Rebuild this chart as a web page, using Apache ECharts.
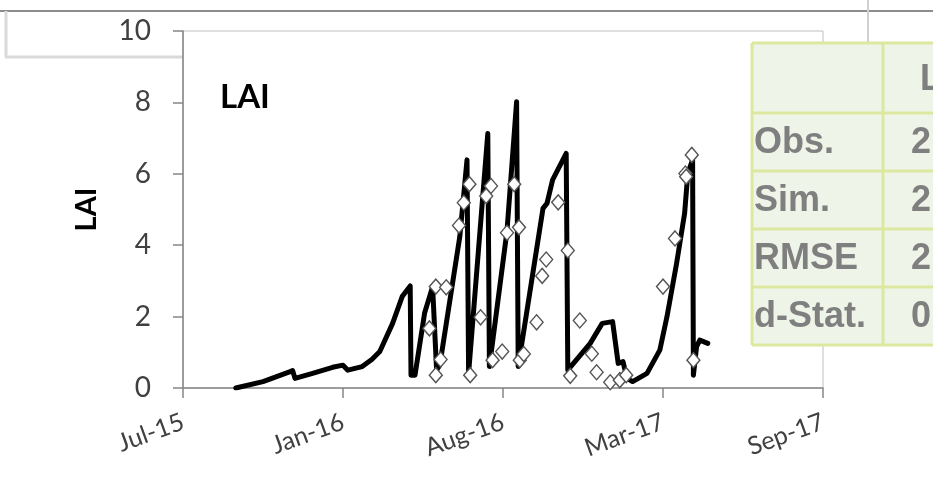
<!DOCTYPE html>
<html>
<head>
<meta charset="utf-8">
<script src="https://cdn.jsdelivr.net/npm/echarts@6/dist/echarts.min.js"></script>
<style>html,body{margin:0;padding:0;background:#fff;}#c{width:933px;height:487px;}</style>
</head>
<body>
<div id="c"></div>
<script>
// Simulated LAI (line)
const simDates = ['2015-09-19','2015-10-23','2015-11-26','2015-11-29','2015-12-02','2015-12-24','2016-01-18','2016-01-31','2016-02-06','2016-02-24','2016-03-07','2016-03-17','2016-04-02','2016-04-14','2016-04-24','2016-04-25','2016-04-30','2016-05-12','2016-05-22','2016-05-27','2016-05-31','2016-06-25','2016-07-04','2016-07-06','2016-07-30','2016-08-01','2016-08-23','2016-09-04','2016-09-06','2016-10-07','2016-10-12','2016-10-19','2016-11-05','2016-11-07','2016-12-05','2016-12-20','2017-01-02','2017-01-09','2017-01-15','2017-01-20','2017-01-27','2017-02-14','2017-03-02','2017-03-11','2017-03-23','2017-04-02','2017-04-06','2017-04-12','2017-04-13','2017-04-17','2017-04-21','2017-05-01'];
const simLAI = [0.00,0.18,0.46,0.49,0.27,0.41,0.58,0.64,0.50,0.60,0.80,1.02,1.81,2.56,2.86,0.36,0.36,2.10,2.84,0.50,0.64,4.24,6.39,0.41,7.13,0.60,4.40,8.02,0.60,5.03,5.17,5.83,6.57,0.50,1.25,1.81,1.86,0.69,0.74,0.27,0.18,0.41,1.06,2.00,3.49,4.89,6.01,6.39,0.36,1.16,1.34,1.25];
// Observed LAI (diamonds)
const obsDates = ['2016-05-18','2016-05-26','2016-06-08','2016-05-26','2016-06-01','2016-06-24','2016-06-30','2016-07-07','2016-07-08','2016-07-21','2016-07-28','2016-08-03','2016-08-05','2016-08-17','2016-08-23','2016-09-01','2016-09-07','2016-09-08','2016-09-13','2016-09-29','2016-10-06','2016-10-11','2016-10-26','2016-11-07','2016-11-10','2016-11-22','2016-12-07','2016-12-13','2016-12-30','2017-01-11','2017-01-19','2017-03-06','2017-03-21','2017-04-03','2017-04-04','2017-04-11','2017-04-13'];
const obsLAI = [1.67,2.84,2.82,0.36,0.80,4.55,5.19,5.71,0.36,1.98,5.38,5.66,0.78,1.02,4.35,5.71,4.50,0.78,0.95,1.84,3.14,3.60,5.20,3.85,0.34,1.89,0.96,0.44,0.16,0.22,0.36,2.84,4.19,6.01,5.92,6.53,0.78];
// Axis ticks (Excel serial days) and labels
const xMin = 42200, xMax = 43000, xStep = 200;
const yTicks = [0, 2, 4, 6, 8, 10];
const monthNames = ['Jan','Feb','Mar','Apr','May','Jun','Jul','Aug','Sep','Oct','Nov','Dec'];
// Stats table (visible part)
const tableRows = ['Obs.', 'Sim.', 'RMSE', 'd-Stat.'];
const tableVals = ['2', '2', '2', '0'];
const tableHeader = 'L';

function toSerial(s) {
  const p = s.split('-').map(Number);
  return Date.UTC(p[0], p[1] - 1, p[2]) / 86400000 + 25569;
}
function fmt(v) {
  const d = new Date((v - 25569) * 86400000);
  return monthNames[d.getUTCMonth()] + '-' + String(d.getUTCFullYear()).slice(2);
}
const simData = simDates.map((d, i) => [toSerial(d), simLAI[i]]);
const obsData = obsDates.map((d, i) => [toSerial(d), obsLAI[i]]);

const axisCol = '#868686';
const labCol = '#404040';

// table graphics
const tbl = [];
const tX = 752, tCol = 883, tRight = 960;
const rowsY = [43, 113, 171, 229, 287, 345];
tbl.push({type:'rect', shape:{x:tX, y:rowsY[0], width:tRight - tX, height:rowsY[5]-rowsY[0]}, style:{fill:'#EEF5E8', stroke:null}, z:100});
for (let i = 0; i < rowsY.length; i++) {
  tbl.push({type:'line', shape:{x1:tX, y1:rowsY[i], x2:tRight, y2:rowsY[i]}, style:{stroke:'#DCE8A0', lineWidth:3}, z:101});
}
tbl.push({type:'line', shape:{x1:tX, y1:rowsY[0], x2:tX, y2:rowsY[5]}, style:{stroke:'#DCE8A0', lineWidth:3}, z:101});
tbl.push({type:'line', shape:{x1:tCol, y1:rowsY[0], x2:tCol, y2:rowsY[5]}, style:{stroke:'#DCE8A0', lineWidth:3}, z:101});
tbl.push({type:'text', x:920, y:(rowsY[0]+rowsY[1])/2 + 2, style:{text:tableHeader, font:'bold 36px "Liberation Sans", Arial, sans-serif', fill:'#7f7f7f', textVerticalAlign:'middle', textAlign:'left'}, z:102});
tableRows.forEach((r, i) => {
  const cy = (rowsY[i+1] + rowsY[i+2]) / 2 + 1;
  tbl.push({type:'text', x:754, y:cy, style:{text:r, font:'bold 36px "Liberation Sans", Arial, sans-serif', fill:'#7f7f7f', textVerticalAlign:'middle', textAlign:'left'}, z:102});
  tbl.push({type:'text', x:911, y:cy, style:{text:tableVals[i], font:'bold 36px "Liberation Sans", Arial, sans-serif', fill:'#7f7f7f', textVerticalAlign:'middle', textAlign:'left'}, z:102});
});

const deco = [
  {type:'line', shape:{x1:0, y1:11, x2:933, y2:11}, style:{stroke:'#8c8c8c', lineWidth:2}, z:-10},
  {type:'line', shape:{x1:868, y1:0, x2:868, y2:44}, style:{stroke:'#d0d0d0', lineWidth:2}, z:-10},
  {type:'line', shape:{x1:6, y1:11, x2:6, y2:57}, style:{stroke:'#d9d9d9', lineWidth:3}, z:-10},
  {type:'line', shape:{x1:5, y1:57, x2:183, y2:57}, style:{stroke:'#d9d9d9', lineWidth:3}, z:-10},
  {type:'text', x:220, y:97, style:{text:'LAI', font:'bold 33px Lato, "Liberation Sans", sans-serif', fill:'#000', textVerticalAlign:'middle', textAlign:'left'}, z:50}
];

const chart = echarts.init(document.getElementById('c'), null, {renderer:'canvas'});
chart.setOption({
  animation: false,
  backgroundColor: '#fff',
  grid: {left:183, right:110, top:31, bottom:99, show:true, backgroundColor:'#fff', borderColor:'#c0c0c0', borderWidth:1, z:0},
  xAxis: {
    type:'value', min:xMin, max:xMax, interval:xStep,
    axisLine:{show:true, lineStyle:{color:axisCol, width:1.5}},
    axisTick:{show:true, length:10, lineStyle:{color:axisCol, width:1.5}},
    splitLine:{show:false},
    axisLabel:{rotate:20, margin:33, color:labCol, fontFamily:'Lato, "Liberation Sans", sans-serif', fontSize:25, formatter:fmt}
  },
  yAxis: {
    type:'value', min:yTicks[0], max:yTicks[yTicks.length-1], interval:yTicks[1]-yTicks[0],
    name:'LAI', nameLocation:'middle', nameGap:82, nameRotate:90,
    nameTextStyle:{fontFamily:'Lato, "Liberation Sans", sans-serif', fontWeight:'bold', fontSize:29, color:'#000'},
    axisLine:{show:true, lineStyle:{color:axisCol, width:1.5}},
    axisTick:{show:true, length:10, lineStyle:{color:axisCol, width:1.5}},
    splitLine:{show:false},
    axisLabel:{margin:32, color:labCol, fontFamily:'Lato, "Liberation Sans", sans-serif', fontSize:28}
  },
  series: [
    {type:'line', data:simData, showSymbol:false, symbol:'none', lineStyle:{color:'#000', width:5, join:'round', cap:'round'}, z:2},
    {type:'scatter', data:obsData, symbol:'diamond', symbolSize:[13,15], itemStyle:{color:'#fff', opacity:1, borderColor:'#555', borderWidth:1.4}, z:3}
  ],
  graphic: deco.concat(tbl)
});
</script>
</body>
</html>
